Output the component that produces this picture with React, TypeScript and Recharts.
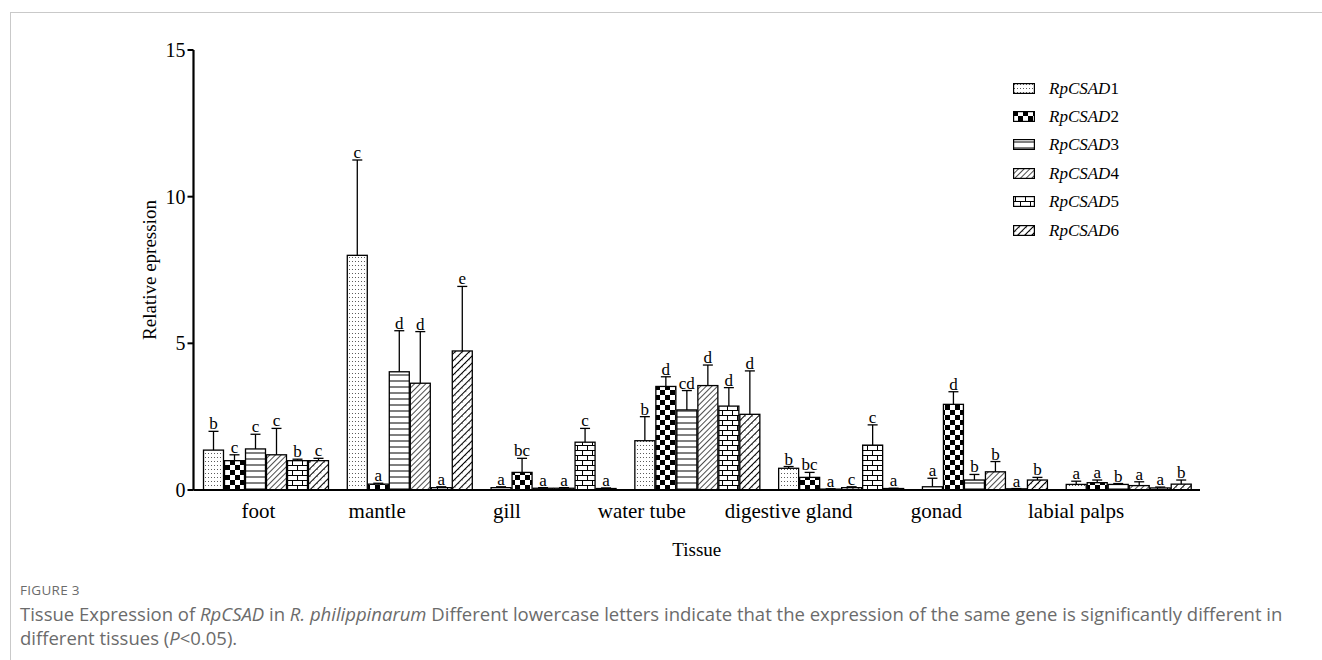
import React from 'react';
import { BarChart, Bar, XAxis, YAxis } from 'recharts';

// Tissues on the x axis
const tissues = ['foot', 'mantle', 'gill', 'water tube', 'digestive gland', 'gonad', 'labial palps'];

// Relative expression (mean), upper error (SD) and significance letters per gene
const csad1 = [1.36, 8.0, 0.08, 1.68, 0.74, 0.11, 0.19];
const csad1Err = [0.64, 3.25, 0.03, 0.82, 0.06, 0.29, 0.11];
const csad1Sig = ['b', 'c', 'a', 'b', 'b', 'a', 'a'];

const csad2 = [1.0, 0.2, 0.6, 3.53, 0.43, 2.92, 0.25];
const csad2Err = [0.2, 0.03, 0.48, 0.33, 0.17, 0.43, 0.09];
const csad2Sig = ['c', 'a', 'bc', 'd', 'bc', 'd', 'a'];

const csad3 = [1.4, 4.03, 0.06, 2.73, 0.03, 0.34, 0.19];
const csad3Err = [0.5, 1.4, 0.02, 0.66, 0.01, 0.19, 0.03];
const csad3Sig = ['c', 'd', 'a', 'cd', 'a', 'b', 'b'];

const csad4 = [1.2, 3.64, 0.06, 3.56, 0.08, 0.62, 0.15];
const csad4Err = [0.9, 1.76, 0.02, 0.7, 0.03, 0.35, 0.13];
const csad4Sig = ['c', 'd', 'a', 'd', 'c', 'b', 'a'];

const csad5 = [1.0, 0.08, 1.63, 2.86, 1.53, 0.04, 0.07];
const csad5Err = [0.05, 0.03, 0.47, 0.63, 0.69, 0.01, 0.03];
const csad5Sig = ['b', 'a', 'c', 'd', 'c', 'a', 'a'];

const csad6 = [1.0, 4.74, 0.05, 2.58, 0.05, 0.34, 0.2];
const csad6Err = [0.08, 2.2, 0.02, 1.48, 0.01, 0.09, 0.14];
const csad6Sig = ['c', 'e', 'a', 'd', 'a', 'b', 'b'];

const yTicks = [0, 5, 10, 15];

// Horizontal nudge of each category label relative to its bar group (px)
const tickNudge = [-7, -32, -46, -55, -52, -48, -52];

const series = [
  { key: 'g1', num: '1', values: csad1, err: csad1Err, sig: csad1Sig, fill: 'url(#pDots)' },
  { key: 'g2', num: '2', values: csad2, err: csad2Err, sig: csad2Sig, fill: 'url(#pChecker)' },
  { key: 'g3', num: '3', values: csad3, err: csad3Err, sig: csad3Sig, fill: 'url(#pHoriz)' },
  { key: 'g4', num: '4', values: csad4, err: csad4Err, sig: csad4Sig, fill: 'url(#pDiag)' },
  { key: 'g5', num: '5', values: csad5, err: csad5Err, sig: csad5Sig, fill: 'url(#pBrick)' },
  { key: 'g6', num: '6', values: csad6, err: csad6Err, sig: csad6Sig, fill: 'url(#pDiagBold)' },
];

const data = tissues.map((tissue, i) => {
  const row: Record<string, any> = { tissue };
  series.forEach((s) => {
    row[s.key] = s.values[i];
    row[s.key + 'Err'] = s.err[i];
    row[s.key + 'Sig'] = s.sig[i];
  });
  return row;
});

const SERIF = '"Liberation Serif", "Times New Roman", serif';

// Bar with an upper whisker and the significance letter above it
const makeShape = (s: (typeof series)[number]) => (props: any) => {
  const { x, y, width, height, payload } = props;
  const v = payload[s.key];
  const e = payload[s.key + 'Err'];
  const ppu = v > 0 ? height / v : 0;
  const top = y - e * ppu;
  const cx = x + width / 2;
  return (
    <g>
      <rect x={x} y={y} width={width} height={height} fill={s.fill} stroke="#000" strokeWidth={1.3} />
      <line x1={cx} x2={cx} y1={y} y2={top} stroke="#000" strokeWidth={1.3} />
      <line x1={cx - 5} x2={cx + 5} y1={top} y2={top} stroke="#000" strokeWidth={1.3} />
      <text x={cx} y={top - 2} textAnchor="middle" fontFamily={SERIF} fontSize={17} fill="#000">
        {payload[s.key + 'Sig']}
      </text>
    </g>
  );
};

const CategoryTick = (props: any) => {
  const { x, y, payload, index } = props;
  return (
    <text x={x + (tickNudge[index] ?? 0)} y={y + 5} dy="0.71em" textAnchor="middle" fontFamily={SERIF} fontSize={21} fill="#000">
      {payload.value}
    </text>
  );
};

const Patterns = () => (
  <svg width={0} height={0} style={{ position: 'absolute' }}>
    <defs>
      <pattern id="pDots" width={3} height={4} patternUnits="userSpaceOnUse">
        <rect width={3} height={4} fill="#fff" />
        <rect x={1} y={1} width={0.9} height={0.9} fill="#333" />
      </pattern>
      <pattern id="pChecker" width={10} height={10} patternUnits="userSpaceOnUse">
        <rect width={10} height={10} fill="#fff" />
        <rect x={0} y={0} width={5} height={5} fill="#000" />
        <rect x={5} y={5} width={5} height={5} fill="#000" />
      </pattern>
      <pattern id="pHoriz" width={6} height={6} patternUnits="userSpaceOnUse">
        <rect width={6} height={6} fill="#fff" />
        <line x1={0} x2={6} y1={3} y2={3} stroke="#000" strokeWidth={1} />
      </pattern>
      <pattern id="pDiag" width={4} height={4} patternUnits="userSpaceOnUse" patternTransform="rotate(45)">
        <rect width={4} height={4} fill="#fff" />
        <line x1={0} x2={0} y1={0} y2={4} stroke="#000" strokeWidth={1.4} />
      </pattern>
      <pattern id="pBrick" width={10} height={10} patternUnits="userSpaceOnUse">
        <rect width={10} height={10} fill="#fff" />
        <line x1={0} x2={10} y1={0.5} y2={0.5} stroke="#000" strokeWidth={1} />
        <line x1={0} x2={10} y1={5.5} y2={5.5} stroke="#000" strokeWidth={1} />
        <line x1={2.5} x2={2.5} y1={0.5} y2={5.5} stroke="#000" strokeWidth={1} />
        <line x1={7.5} x2={7.5} y1={5.5} y2={10.5} stroke="#000" strokeWidth={1} />
      </pattern>
      <pattern id="pDiagBold" width={5} height={5} patternUnits="userSpaceOnUse" patternTransform="rotate(45)">
        <rect width={5} height={5} fill="#fff" />
        <line x1={0} x2={0} y1={0} y2={5} stroke="#000" strokeWidth={2} />
        <line x1={0} x2={5} y1={2.5} y2={2.5} stroke="#000" strokeWidth={0.8} strokeDasharray="1.5 3.5" />
      </pattern>
    </defs>
  </svg>
);

const LegendBox = () => (
  <div style={{ position: 'absolute', left: 1013, top: 74 }}>
    {series.map((s) => (
      <div key={s.key} style={{ display: 'flex', alignItems: 'center', height: 28.4 }}>
        <svg width={22} height={11} style={{ display: 'block' }}>
          <rect x={0.6} y={0.6} width={20.8} height={9.8} fill={s.fill} stroke="#000" strokeWidth={1.2} />
        </svg>
        <span style={{ marginLeft: 14, fontFamily: SERIF, fontSize: 17, color: '#000', lineHeight: 1 }}>
          <i>RpCSAD</i>
          {s.num}
        </span>
      </div>
    ))}
  </div>
);

export default function App() {
  return (
    <div style={{ position: 'absolute', left: 0, top: 0, width: 1322, height: 660, background: '#fff', overflow: 'hidden' }}>
      <div style={{ position: 'absolute', left: 10, top: 12, width: 1330, height: 700, borderTop: '1px solid #c9c9c9', borderLeft: '1px solid #c9c9c9' }} />
      <Patterns />
      <div style={{ position: 'absolute', left: 0, top: 0 }}>
        <BarChart
          width={1322}
          height={600}
          data={data}
          margin={{ top: 50, right: 122, bottom: 80, left: 133.5 }}
          barCategoryGap={10}
          barGap={1}
        >
          <XAxis
            dataKey="tissue"
            tickLine={false}
            axisLine={{ stroke: '#000', strokeWidth: 2.2 }}
            height={30}
            tick={<CategoryTick />}
            interval={0}
            label={(p: any) => {
              const vb = p.viewBox;
              return (
                <text x={vb.x + vb.width / 2} y={556} textAnchor="middle" fontFamily={SERIF} fontSize={19} fill="#000">
                  Tissue
                </text>
              );
            }}
          />
          <YAxis
            width={60}
            domain={[0, 15]}
            ticks={yTicks}
            tickSize={6}
            tickLine={{ stroke: '#000', strokeWidth: 2 }}
            axisLine={{ stroke: '#000', strokeWidth: 2.2 }}
            tick={{ fill: '#000', fontFamily: SERIF, fontSize: 20 }}
            interval={0}
            label={() => (
              <text
                x={152}
                y={270}
                transform="rotate(-90 152 270)"
                textAnchor="middle"
                dominantBaseline="middle"
                fontFamily={SERIF}
                fontSize={19}
                fill="#000"
              >
                Relative epression
              </text>
            )}
          />
          {series.map((s) => (
            <Bar key={s.key} dataKey={s.key} isAnimationActive={false} shape={makeShape(s)} />
          ))}
        </BarChart>
      </div>
      <LegendBox />
      <div
        style={{
          position: 'absolute',
          left: 20,
          top: 581,
          fontFamily: '"Open Sans", sans-serif',
          fontSize: 13.5,
          color: '#6b6b6b',
          letterSpacing: 0.3,
        }}
      >
        FIGURE 3
      </div>
      <div
        style={{
          position: 'absolute',
          left: 20,
          top: 602,
          width: 1300,
          fontFamily: '"Open Sans", sans-serif',
          fontSize: 18.5,
          lineHeight: '24px',
          color: '#6b6b6b',
          whiteSpace: 'nowrap',
        }}
      >
        Tissue Expression of <i>RpCSAD</i> in <i>R. philippinarum</i> Different lowercase letters indicate that the
        expression of the same gene is significantly different in
        <br />
        different tissues (<i>P</i>&lt;0.05).
      </div>
    </div>
  );
}
